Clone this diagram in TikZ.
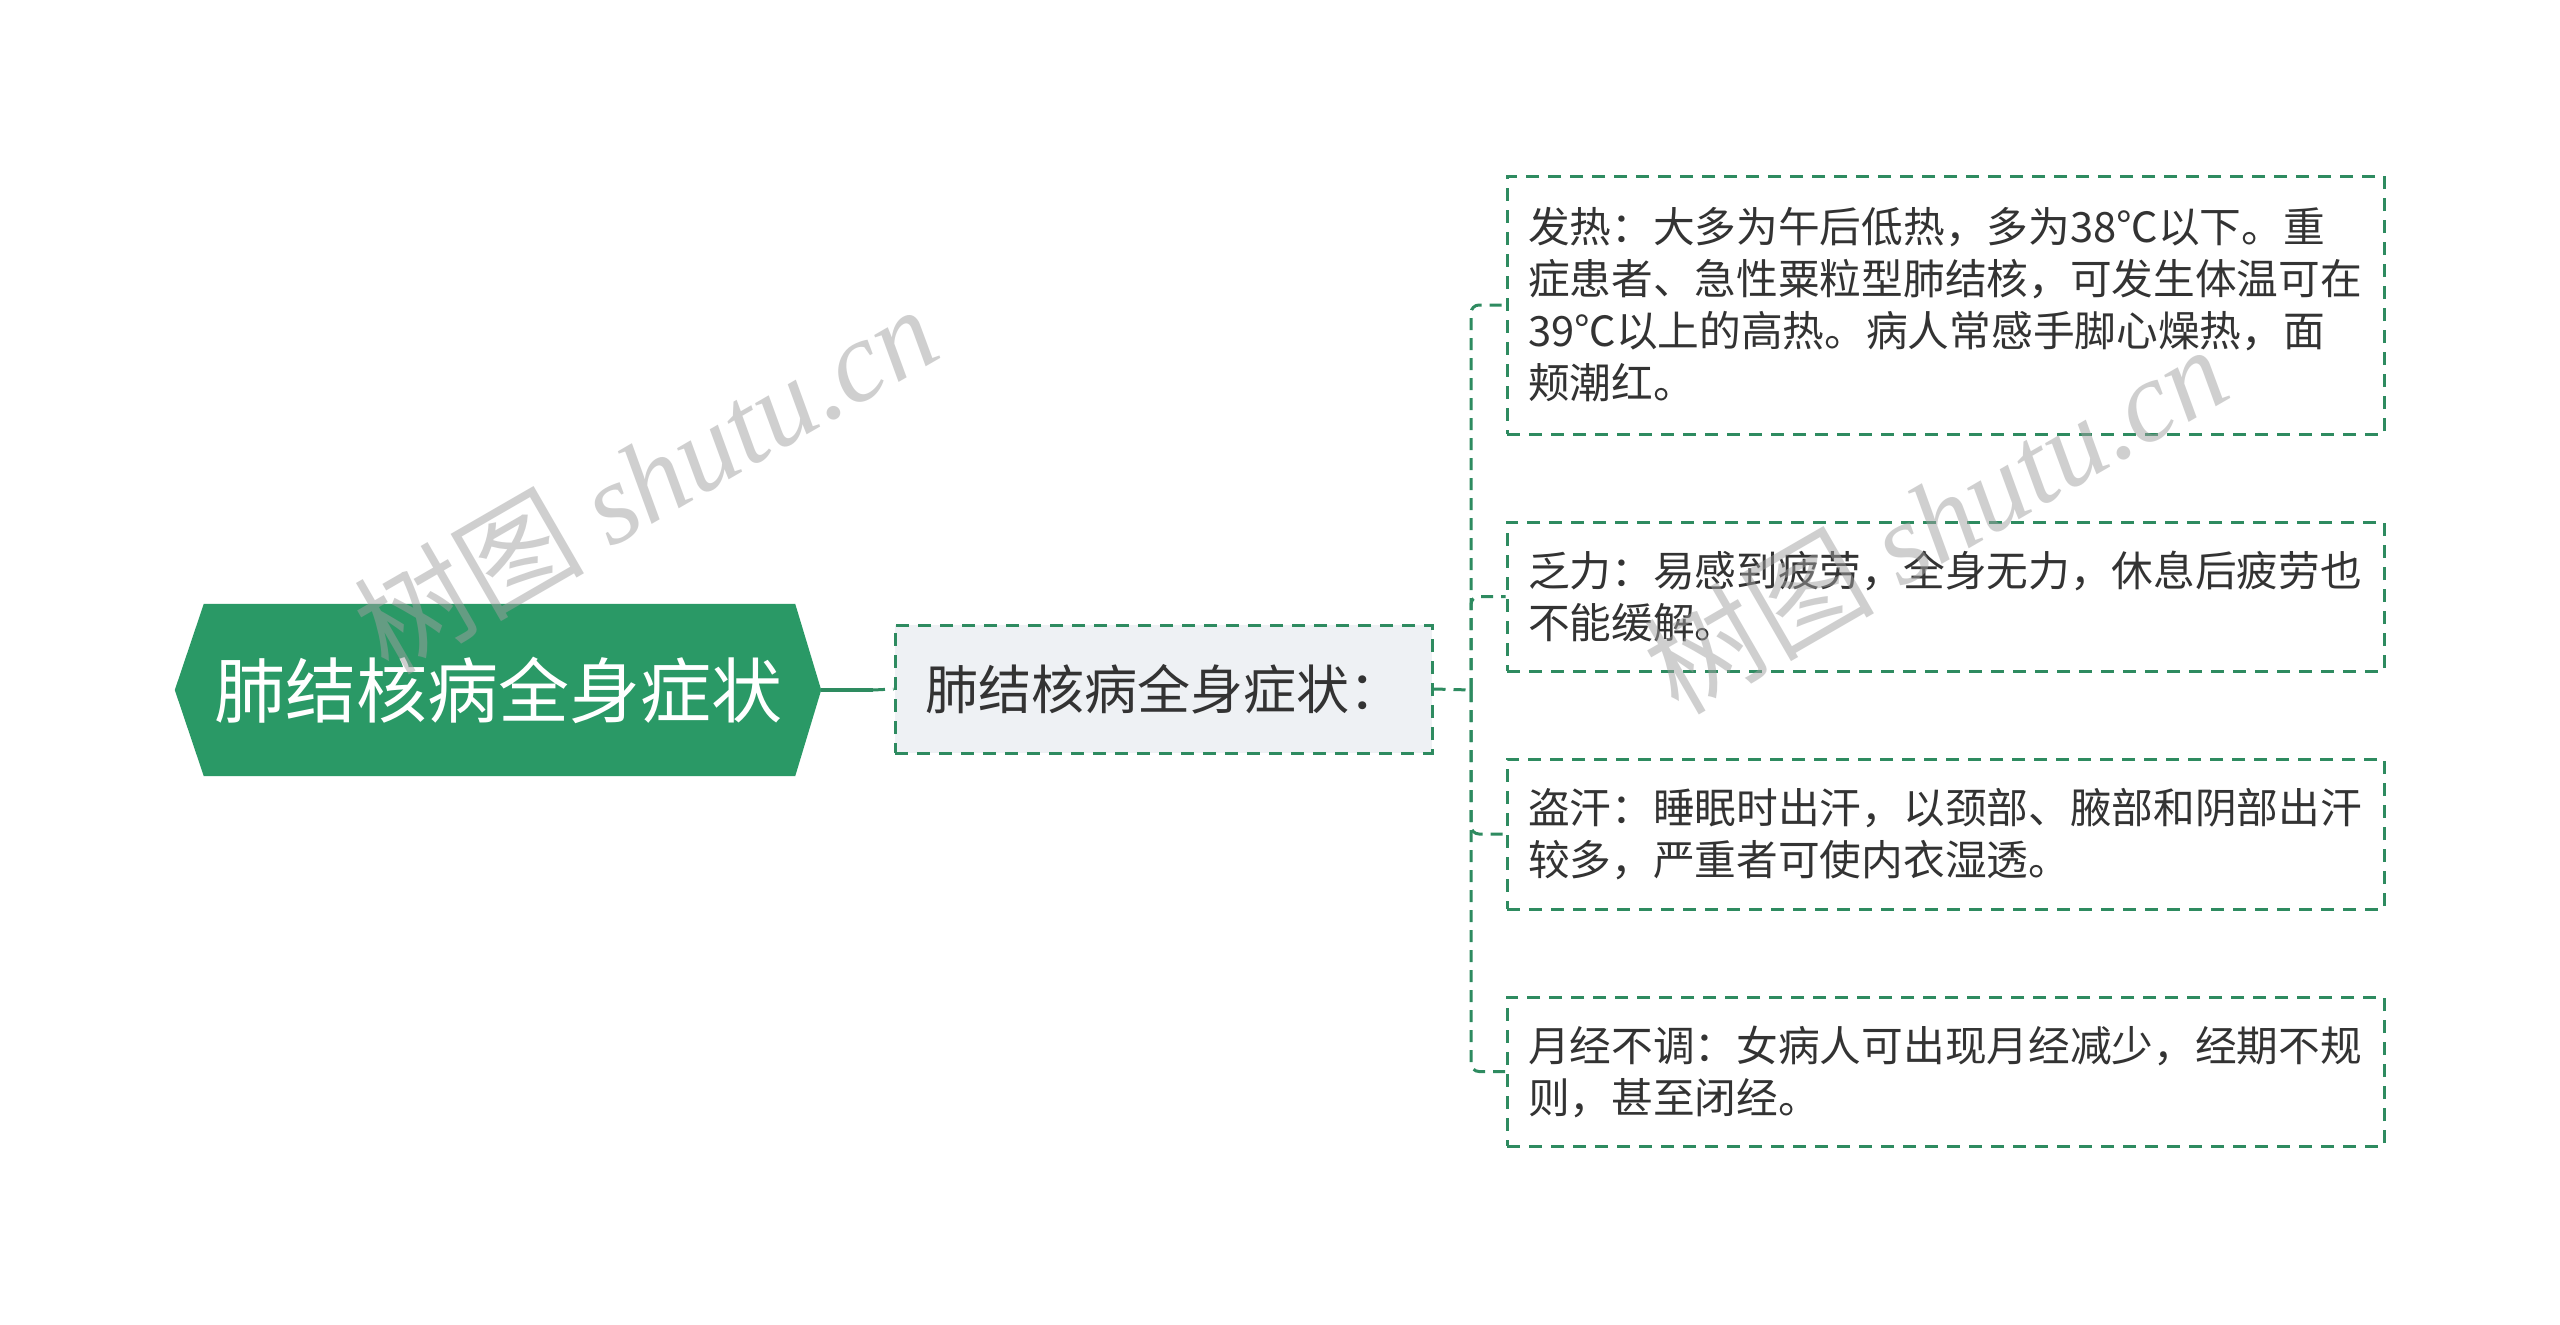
\documentclass[tikz,border=0pt]{standalone}
\usepackage{fontspec}
\setmainfont{Noto Sans CJK SC}
\newfontfamily\wmlatin{Liberation Serif}
\usetikzlibrary{backgrounds}
\definecolor{rootgreen}{HTML}{2A9966}
\definecolor{linegreen}{HTML}{2E8B60}
\definecolor{midfill}{HTML}{EEF1F4}
\definecolor{txt}{HTML}{333333}
\definecolor{wmgray}{HTML}{A0A0A0}
\tikzset{
  rootnode/.style={minimum width=646pt, minimum height=172pt, inner sep=0pt, text=white, font=\fontsize{71}{80}\selectfont},
  midnode/.style={minimum width=537pt, minimum height=128pt, inner sep=0pt, fill=midfill, draw=linegreen, line width=3pt, dash pattern=on 13pt off 9pt, text=txt, font=\fontsize{53}{60}\selectfont},
  leafnode/.style={text width=835pt, inner xsep=21pt, inner ysep=0pt, align=left, draw=linegreen, line width=3pt, dash pattern=on 13pt off 9pt, fill=white, text=txt, font=\fontsize{41.7}{52}\selectfont},
  link/.style={draw=linegreen, line width=3pt, dash pattern=on 12pt off 8pt},
  solidlink/.style={draw=linegreen, line width=3.5pt},
  wmark/.style={text=wmgray, opacity=0.5, font=\fontsize{115}{120}\selectfont, inner sep=0pt}
}
\begin{document}
\begin{tikzpicture}[x=1pt,y=-1pt]
\useasboundingbox (0,0) rectangle (2560,1325);
\node[rootnode] (root) at (498,690) {肺结核病全身症状};
\begin{scope}[on background layer]
\fill[white] (0,0) rectangle (2560,1325);
\fill[rootgreen] (root.west) -- ([xshift=29pt]root.north west) -- ([xshift=-26pt]root.north east) -- (root.east) -- ([xshift=-26pt]root.south east) -- ([xshift=29pt]root.south west) -- cycle;
\end{scope}
\node[midnode] (mid) at (1163.5,689) {肺结核病全身症状：};
\node[leafnode, minimum height=258pt] (l1) at (1945.5,305) {发热：大多为午后低热，多为38℃以下。重\\症患者、急性粟粒型肺结核，可发生体温可在\\39℃以上的高热。病人常感手脚心燥热，面\\颊潮红。};
\node[leafnode, minimum height=149pt] (l2) at (1945.5,596.5) {乏力：易感到疲劳，全身无力，休息后疲劳也\\不能缓解。};
\node[leafnode, minimum height=150pt] (l3) at (1945.5,834) {盗汗：睡眠时出汗，以颈部、腋部和阴部出汗\\较多，严重者可使内衣湿透。};
\node[leafnode, minimum height=149pt] (l4) at (1945.5,1071.5) {月经不调：女病人可出现月经减少，经期不规\\则，甚至闭经。};
\coordinate (c1) at (873,690);
\coordinate (j) at (1471,690);
\draw[solidlink] (root.east) -- (c1);
\draw[link] (c1) -- (mid.west);
\draw[link] (mid.east) -- (j);
\foreach \n in {l1,l2,l3,l4}{
  \draw[link, rounded corners=8pt] (j) |- (\n.west);
}
\node[wmark, rotate=30] (wm1) at (645,478) {树图 {\wmlatin\itshape shutu.cn}};
\node[wmark, rotate=30] (wm2) at (1935,518) {树图 {\wmlatin\itshape shutu.cn}};
\end{tikzpicture}
\end{document}
